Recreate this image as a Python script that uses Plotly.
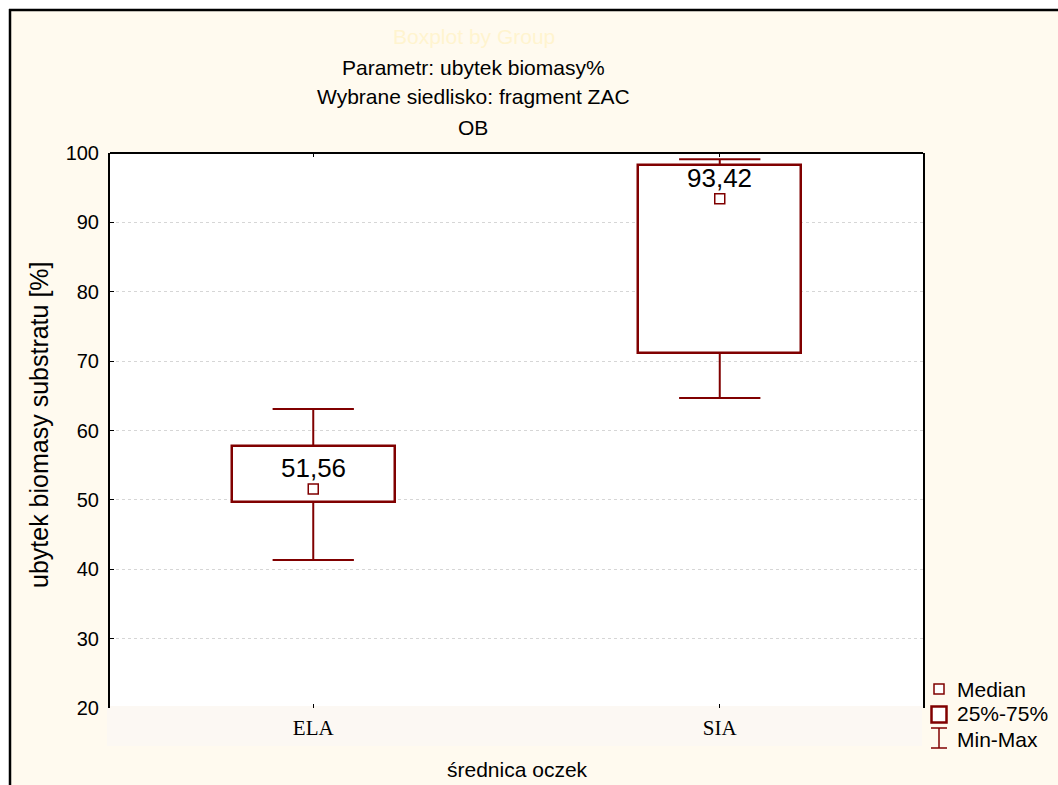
import plotly.graph_objects as go

# ---- data ----
categories = ["ELA", "SIA"]
minimum = [41.35, 64.7]
q1 = [49.67, 71.2]
median = [51.56, 93.42]
q3 = [57.7, 98.2]
maximum = [63.1, 99.1]
y_ticks = [20, 30, 40, 50, 60, 70, 80, 90, 100]

title_lines = ["Parametr: ubytek biomasy%", "Wybrane siedlisko: fragment ZAC", "OB"]
y_title = "ubytek biomasy substratu [%]"
x_title = "średnica oczek"
legend_labels = ["Median", "25%-75%", "Min-Max"]

# ---- style ----
W, H = 1058, 785
L, R, T, B = 110, 923, 153, 708
DARK = "#800000"
CREAM = "#FFFAEF"
BAND = "#FCF8F3"
FONT = "Liberation Sans, Arial, sans-serif"
SERIF = "Liberation Serif, Times New Roman, serif"
BOX_W = 0.4
CAP_W = 0.2


def px(x):
    return (x - L) / (R - L)


def py(y):
    return (B - y) / (B - T)


def note(x, y, text, size, color="black", family=FONT, xanchor="center", **kw):
    return dict(x=px(x), y=py(y), xref="paper", yref="paper", text=text,
                showarrow=False, xanchor=xanchor, yanchor="middle",
                font=dict(family=family, size=size, color=color), **kw)


xs = list(range(len(categories)))

fig = go.Figure()

# whiskers
wx, wy = [], []
for i in xs:
    for a, b in ((q3[i], maximum[i]), (q1[i], minimum[i])):
        wx += [i, i, None]
        wy += [a, b, None]
    for v in (maximum[i], minimum[i]):
        wx += [i - CAP_W / 2, i + CAP_W / 2, None]
        wy += [v, v, None]
fig.add_trace(go.Scatter(x=wx, y=wy, mode="lines",
                         line=dict(color=DARK, width=2),
                         hoverinfo="skip", showlegend=False))

# boxes 25%-75%
fig.add_trace(go.Bar(x=xs, y=[b - a for a, b in zip(q1, q3)], base=q1,
                     width=BOX_W, marker=dict(color="white",
                                              line=dict(color=DARK, width=2.5)),
                     showlegend=False))

# medians
fig.add_trace(go.Scatter(x=xs, y=median, mode="markers",
                         marker=dict(symbol="square", size=10, color="white",
                                     line=dict(color=DARK, width=1.5)),
                         showlegend=False))

annotations = []
for i in xs:
    annotations.append(dict(x=i, y=median[i], xref="x", yref="y",
                            text=f"{median[i]:.2f}".replace(".", ","),
                            showarrow=False, yshift=21,
                            xanchor="center", yanchor="middle",
                            font=dict(family=FONT, size=26, color="black")))

# title lines
annotations.append(note(474, 37, "Boxplot by Group", 21, color="#FFF4CF"))
for k, line in enumerate(title_lines):
    annotations.append(note(473, 67 + 30 * k, line, 21))

# axis titles
annotations.append(note(39, 425, y_title, 25, textangle=-90))
annotations.append(note(517, 769, x_title, 21))

# legend text
for k, lab in enumerate(legend_labels):
    annotations.append(note(955, 689 + 25 * k, lab, 21, xanchor="left"))

shapes = [
    # white outside the frame
    dict(type="rect", xref="paper", yref="paper", x0=px(0), x1=px(10),
         y0=py(0), y1=py(H), fillcolor="white", line=dict(width=0), layer="below"),
    dict(type="rect", xref="paper", yref="paper", x0=px(0), x1=px(W),
         y0=py(0), y1=py(10), fillcolor="white", line=dict(width=0), layer="below"),
    # frame lines
    dict(type="line", xref="paper", yref="paper", x0=px(10), x1=px(10),
         y0=py(9), y1=py(H + 5), line=dict(color="black", width=2.5)),
    dict(type="line", xref="paper", yref="paper", x0=px(9), x1=px(W + 5),
         y0=py(10), y1=py(10), line=dict(color="black", width=2.5)),
    # x-axis band
    dict(type="rect", xref="paper", yref="paper", x0=px(107), x1=px(922),
         y0=py(746), y1=py(706), fillcolor=BAND, line=dict(width=0), layer="below"),
    # top plot line
    dict(type="line", xref="paper", yref="paper", x0=0, x1=1, y0=1, y1=1,
         line=dict(color="black", width=2)),
    # legend symbols
    dict(type="rect", xref="paper", yref="paper", x0=px(934), x1=px(944),
         y0=py(694), y1=py(684), fillcolor="white", line=dict(color=DARK, width=1.5)),
    dict(type="rect", xref="paper", yref="paper", x0=px(931.5), x1=px(946.5),
         y0=py(722.5), y1=py(706.5), fillcolor="white", line=dict(color=DARK, width=2.5)),
    dict(type="line", xref="paper", yref="paper", x0=px(939), x1=px(939),
         y0=py(748), y1=py(728), line=dict(color=DARK, width=1.5)),
    dict(type="line", xref="paper", yref="paper", x0=px(931), x1=px(947),
         y0=py(728), y1=py(728), line=dict(color=DARK, width=1.5)),
    dict(type="line", xref="paper", yref="paper", x0=px(931), x1=px(947),
         y0=py(748), y1=py(748), line=dict(color=DARK, width=1.5)),
]

fig.update_layout(
    width=W, height=H,
    margin=dict(l=L, r=W - R, t=T, b=H - B, pad=0),
    paper_bgcolor=CREAM, plot_bgcolor="white",
    showlegend=False,
    annotations=annotations, shapes=shapes,
    xaxis=dict(range=[-0.5, len(categories) - 0.5], tickvals=xs, ticktext=categories,
               showgrid=False, zeroline=False, showline=False,
               ticks="inside", ticklen=4, tickcolor="black", mirror="ticks",
               ticklabelstandoff=5,
               tickfont=dict(family=SERIF, size=21, color="black")),
    yaxis=dict(range=[20, 100], tickvals=y_ticks, showgrid=True,
               gridcolor="#d6d6d6", griddash="dot", gridwidth=1,
               zeroline=False, showline=True, mirror=True,
               linecolor="black", linewidth=2,
               ticks="inside", ticklen=4, tickcolor="black",
               ticklabelstandoff=5,
               tickfont=dict(family=FONT, size=20, color="black")),
    bargap=0,
)

fig.write_html("out.html")
